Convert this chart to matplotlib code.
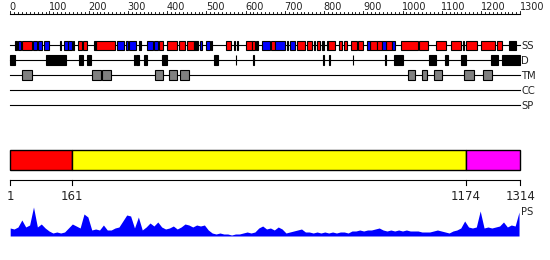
import numpy as np
import matplotlib.pyplot as plt

seq_len = 1314

# secondary structure (residue ranges)
ss_helix = [(32, 56), (176, 186), (188, 198), (221, 272), (384, 394), (404, 431),
            (436, 452), (456, 473), (556, 569), (576, 581), (607, 623), (624, 631),
            (672, 683), (739, 760), (765, 778), (790, 799), (820, 836), (848, 855),
            (861, 869), (879, 893), (897, 908), (928, 946), (946, 959), (968, 985),
            (1007, 1050), (1054, 1076), (1096, 1123), (1136, 1162), (1175, 1204),
            (1213, 1248), (1255, 1267)]
ss_strand = [(22, 30), (60, 70), (72, 82), (89, 100), (140, 149), (151, 159),
             (275, 294), (299, 304), (307, 325), (353, 368), (371, 381), (490, 496),
             (505, 515), (649, 670), (683, 709), (722, 734), (782, 786), (816, 820),
             (919, 928), (959, 968), (985, 992)]
ss_other = [(13, 18), (129, 133), (162, 165), (217, 221), (333, 337), (473, 485),
            (519, 521), (586, 587), (634, 640), (713, 715), (803, 809), (1166, 1169),
            (1286, 1302)]

disorder = [(1, 13), (93, 144), (178, 188), (200, 208), (321, 322), (325, 332),
            (345, 352), (393, 404), (526, 536), (582, 583), (627, 628), (807, 808),
            (822, 824), (883, 884), (965, 969), (988, 1012), (1080, 1097), (1121, 1128),
            (1162, 1175), (1239, 1256), (1267, 1314)]

tm = [(32, 56), (212, 234), (238, 260), (375, 395), (410, 430), (438, 462),
      (1024, 1043), (1060, 1075), (1091, 1112), (1170, 1194), (1219, 1241)]

dom_bounds = [1, 161, 1174, 1314]

# PS profile, one value every 10 residues
ps_pos = np.arange(1, seq_len + 1, 10)
ps_val = [8, 7, 9, 16, 9, 11, 29, 9, 12, 8,
          5, 3, 4, 3, 4, 8, 12, 10, 8, 22,
          19, 6, 7, 6, 11, 6, 6, 8, 9, 15,
          21, 20, 8, 19, 6, 9, 13, 10, 14, 9,
          7, 8, 10, 7, 9, 12, 11, 9, 11, 10,
          11, 6, 3, 2, 3, 2, 2, 1, 2, 2,
          3, 4, 3, 4, 8, 10, 7, 8, 6,
          9, 7, 3, 4, 5, 6, 7, 4, 4, 3,
          4, 3, 4, 3, 4, 3, 4, 4, 3, 5,
          5, 6, 5, 6, 6, 7, 8, 6, 5, 6,
          5, 6, 5, 6, 5, 5, 5, 4, 4, 4,
          5, 6, 5, 4, 3, 5, 6, 8, 15, 9,
          8, 9, 25, 8, 9, 8, 9, 10, 14, 9,
          11, 10, 24]

track_names = ['SS', 'D', 'TM', 'CC', 'SP']

# --- figure: x in residues, y in pixels (top down)
px = 1313 / 510.0
fig = plt.figure(figsize=(5.5, 2.6), dpi=100)
ax = fig.add_axes([0, 0, 1, 1])
ax.set_xlim(1 - 10.2 * px, 1 + 539.8 * px)
ax.set_ylim(260, 0)
ax.axis('off')

lw = 0.8
txt = '#222222'

# ruler (0..1300 spread over the whole track)
ax.plot([1, seq_len], [14, 14], color='black', lw=lw)
for v in range(0, 1301, 10):
    r = 1 + v * (seq_len - 1) / 1300.0
    top = 10.5 if v % 100 == 0 else 11.5
    ax.plot([r, r], [top, 14], color='black', lw=0.6)
    if v % 100 == 0:
        ax.text(r - 1, 9.5, str(v), ha='left', va='baseline', fontsize=7, color=txt)

# tracks
track_y = [45, 60, 75, 90, 105]
for name, y in zip(track_names, track_y):
    ax.plot([1, seq_len], [y, y], color='black', lw=lw, zorder=1)
    ax.text(seq_len + 3, y + 3.8, name, ha='left', va='baseline', fontsize=7.2, color=txt)

def boxes(segs, y, h, color):
    s = np.array(segs)
    ax.barh(y, s[:, 1] - s[:, 0], left=s[:, 0], height=h, color=color,
            edgecolor='black', linewidth=lw, zorder=3)

boxes(ss_helix, 45, 9, '#ff0000')
boxes(ss_strand, 45, 9, '#0000ff')
boxes(ss_other, 45, 9, 'black')
boxes(disorder, 60, 10, 'black')
boxes(tm, 75, 10, '#808080')

# domain bar
dom_colors = ['#ff0000', '#ffff00', '#ff00ff']
for i in range(3):
    ax.barh(160, dom_bounds[i + 1] - dom_bounds[i], left=dom_bounds[i], height=20,
            color=dom_colors[i], edgecolor='black', linewidth=1.0)

ax.plot([1, seq_len], [180, 180], color='black', lw=lw)
for b in dom_bounds:
    ax.plot([b, b], [180, 185], color='black', lw=lw)
    ax.text(b, 200, str(b), ha='center', va='baseline', fontsize=8.5, color=txt)

# PS profile
ps = np.array(ps_val, dtype=float)
ax.fill_between(ps_pos, 236 - ps, 236, color='#0000ff', lw=0)
ax.text(seq_len + 3, 215, 'PS', ha='left', va='baseline', fontsize=7.2, color=txt)

fig.savefig('out.png', dpi=100)
